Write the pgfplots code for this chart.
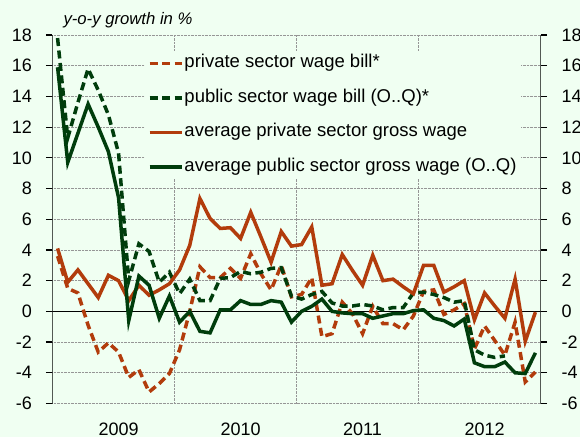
\documentclass[border=0pt]{standalone}
\usepackage{fontspec}
\setmainfont{Liberation Sans}
\usepackage{pgfplots}
\usepackage{pgfplotstable}
\pgfplotsset{compat=1.18}
\definecolor{bg}{RGB}{240,255,242}
\definecolor{rust}{RGB}{178,60,12}
\definecolor{dgreen}{RGB}{0,61,12}
\definecolor{gridgray}{RGB}{150,150,150}

\pgfplotstableread{
m apriv apub bpriv bpub
0 4.1 15.9 3.6 17.8
1 1.9 9.7 1.5 11.3
2 2.7 11.6 1.2 13.6
3 1.8 13.5 -0.9 15.8
4 0.9 12.0 -2.65 14.4
5 2.35 10.4 -2.05 12.8
6 2.0 7.4 -2.65 10.3
7 0.7 -0.6 -4.3 2.0
8 1.7 2.3 -3.8 4.4
9 1.05 1.7 -5.25 3.9
10 1.4 -0.45 -4.7 1.9
11 1.8 1.0 -4.05 2.55
12 2.7 -0.7 -2.5 1.15
13 4.3 0.0 0.0 2.1
14 7.35 -1.3 2.9 0.7
15 6.05 -1.4 2.2 0.7
16 5.4 0.1 2.2 2.15
17 5.45 0.1 2.8 2.2
18 4.75 0.7 2.15 2.6
19 6.45 0.45 3.75 2.45
20 4.85 0.45 2.45 2.55
21 3.2 0.7 1.4 2.8
22 5.2 0.6 3.0 2.85
23 4.25 -0.7 0.95 1.0
24 4.35 0.0 1.1 0.8
25 5.5 0.33 2.2 1.1
26 1.7 0.8 -1.65 1.3
27 1.8 0.0 -1.45 0.55
28 3.7 -0.1 0.6 0.35
29 2.67 -0.15 -0.15 0.35
30 1.7 -0.15 -1.45 0.45
31 3.65 -0.45 0.33 0.35
32 2.0 -0.3 -0.8 0.1
33 2.1 -0.15 -0.8 0.25
34 1.6 -0.15 -1.2 0.25
35 1.15 0.05 -0.3 1.2
36 3.0 0.1 1.3 1.25
37 3.0 -0.45 1.4 1.1
38 1.25 -0.6 -0.2 0.9
39 1.6 -0.95 0.1 0.6
40 2.0 -0.5 0.5 0.7
41 -0.55 -3.35 -2.45 -2.5
42 1.2 -3.6 -0.95 -2.85
43 0.35 -3.6 -1.9 -3.0
44 -0.45 -3.3 -2.85 -2.9
45 2.1 -4.0 -0.7 nan
46 -1.95 -4.05 -4.6 nan
47 -0.05 -2.7 -3.95 nan
}\wagedata

\begin{document}
\begin{tikzpicture}
\fill[bg] (-52.5bp,-33.5bp) rectangle (527.5bp,403.5bp);
\begin{axis}[
  at={(0,0)}, anchor=south west, scale only axis,
  width=488bp, height=368.5bp,
  xmin=-0.5, xmax=47.5, ymin=-6, ymax=18,
  axis line style={draw=none},
  xtick={6,18,30,42}, xticklabels={2009,2010,2011,2012},
  xtick style={draw=none},
  xticklabel style={font=\fontsize{18bp}{20bp}\selectfont, inner sep=0pt, yshift=-19bp},
  ytick={-6,-4,...,18}, yticklabels={-6,-4,-2,0,2,4,6,8,10,12,14,16,18},
  ytick pos=left, ytick align=outside, major tick length=6.5bp,
  ytick style={black, line width=1.2bp},
  yticklabel style={font=\fontsize{18bp}{20bp}\selectfont, inner sep=0pt, xshift=-14bp},
  ymajorgrids, grid style={gridgray, densely dotted, line width=0.9bp},
  extra x ticks={11.5,23.5,35.5}, extra x tick labels={},
  extra x tick style={grid=major, major tick length=0pt},
  legend style={at={(0.1895,0.957)}, anchor=north west, fill=bg, draw=none,
    inner sep=3bp, outer sep=0pt, font=\fontsize{18.5bp}{20bp}\selectfont,
    row sep=15.5bp, nodes={inner sep=1bp, text height=13bp, text depth=4bp}},
  legend cell align=left,
  legend image code/.code={\draw[#1] (0bp,0bp) -- (32bp,0bp);},
]
\draw[black, line width=1.2bp] (axis cs:-0.5,0) -- (axis cs:47.5,0);
\draw[black, line width=1.3bp] (rel axis cs:0,0) -- (rel axis cs:0,1);
\draw[black, line width=1.3bp] (rel axis cs:1,0) -- (rel axis cs:1,1);
\addplot[rust, line width=3.5bp, dash pattern=on 8bp off 4.5bp] table[x=m, y=bpriv] {\wagedata};
\addlegendentry{private sector wage bill*}
\addplot[dgreen, line width=3.5bp, dash pattern=on 8bp off 4.5bp] table[x=m, y=bpub] {\wagedata};
\addlegendentry{public sector wage bill (O..Q)*}
\addplot[rust, line width=3.5bp] table[x=m, y=apriv] {\wagedata};
\addlegendentry{average private sector gross wage}
\addplot[dgreen, line width=3.5bp] table[x=m, y=apub] {\wagedata};
\addlegendentry{average public sector gross wage (O..Q)}
\end{axis}
\begin{axis}[
  at={(0,0)}, anchor=south west, scale only axis,
  width=488bp, height=368.5bp,
  xmin=-0.5, xmax=47.5, ymin=-6, ymax=18,
  axis line style={draw=none},
  xtick=\empty,
  ytick={-6,-4,...,18}, yticklabels={-6,-4,-2,0,2,4,6,8,10,12,14,16,18},
  ytick pos=right, yticklabel pos=right, ytick align=outside, major tick length=6.5bp,
  ytick style={black, line width=1.2bp},
  yticklabel style={font=\fontsize{18bp}{20bp}\selectfont, inner sep=0pt, xshift=14.5bp},
]
\end{axis}
\node[anchor=base west, font=\itshape\fontsize{16.7bp}{18bp}\selectfont] at (7.5bp,378.5bp) {y-o-y growth in \%};
\pgfresetboundingbox
\useasboundingbox (-52.5bp,-33.5bp) rectangle (527.5bp,403.5bp);
\end{tikzpicture}
\end{document}
